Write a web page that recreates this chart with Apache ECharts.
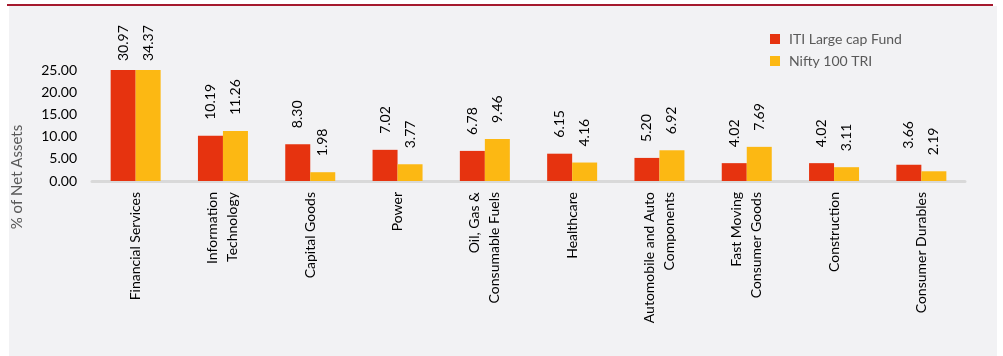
<!DOCTYPE html>
<html>
<head>
<meta charset="utf-8">
<script src="https://cdn.jsdelivr.net/npm/echarts@6/dist/echarts.min.js"></script>
<style>
html,body{margin:0;padding:0;background:#fff;}
#c{width:1003px;height:356px;}
</style>
</head>
<body>
<div id="c"></div>
<script>
var categories = ['Financial Services', 'Information\nTechnology', 'Capital Goods', 'Power',
  'Oil, Gas &\nConsumable Fuels', 'Healthcare', 'Automobile and Auto\nComponents',
  'Fast Moving\nConsumer Goods', 'Construction', 'Consumer Durables'];
var fundValues = [30.97, 10.19, 8.30, 7.02, 6.78, 6.15, 5.20, 4.02, 4.02, 3.66];
var benchValues = [34.37, 11.26, 1.98, 3.77, 9.46, 4.16, 6.92, 7.69, 3.11, 2.19];
var yTicks = [0, 5, 10, 15, 20, 25];
var seriesNames = ['ITI Large cap Fund', 'Nifty 100 TRI'];

var yMax = yTicks[yTicks.length - 1];
var FONT = 'Lato, "Open Sans", sans-serif';

function build(vals) {
  return vals.map(function (v) {
    var capped = v > yMax;
    return {
      value: capped ? yMax : v,
      real: v,
      label: { distance: capped ? 9 : 16 }
    };
  });
}

function labelCfg() {
  return {
    show: true,
    position: 'top',
    rotate: 90,
    align: 'left',
    verticalAlign: 'middle',
    color: '#000',
    fontFamily: FONT,
    fontSize: 14,
    formatter: function (p) { return p.data.real.toFixed(2); }
  };
}

var chart = echarts.init(document.getElementById('c'), null, { renderer: 'canvas' });
chart.setOption({
  backgroundColor: '#ffffff',
  animation: false,
  graphic: [
    { type: 'rect', silent: true, z: -10, shape: { x: 9, y: 6, width: 988, height: 350 }, style: { fill: '#f2f2f4' } },
    { type: 'line', silent: true, z: -9, shape: { x1: 7, y1: 5, x2: 993, y2: 5 }, style: { stroke: '#a5192e', lineWidth: 2 } },
    { type: 'text', silent: true, x: 17, y: 177, rotation: Math.PI / 2,
      style: { text: '% of Net Assets', fill: '#595959', font: '15px ' + FONT, align: 'center', verticalAlign: 'middle' } }
  ],
  legend: {
    orient: 'vertical',
    left: 765,
    top: 27,
    icon: 'rect',
    itemWidth: 10,
    itemHeight: 10,
    itemGap: 8,
    textStyle: { color: '#595959', fontFamily: FONT, fontSize: 14, padding: [0, 0, 0, 4] },
    data: seriesNames
  },
  grid: { left: 92, right: 38, top: 70, bottom: 175 },
  xAxis: {
    type: 'category',
    data: categories,
    axisTick: { show: false },
    axisLine: { lineStyle: { color: '#d9d9d9', width: 3 } },
    axisLabel: {
      interval: 0,
      rotate: 90,
      margin: 11,
      color: '#000',
      fontFamily: FONT,
      fontSize: 14,
      lineHeight: 20
    }
  },
  yAxis: {
    type: 'value',
    min: 0,
    max: yMax,
    interval: 5,
    splitLine: { show: false },
    axisLine: { show: false },
    axisTick: { show: false },
    axisLabel: {
      margin: 15,
      color: '#000',
      fontFamily: FONT,
      fontSize: 14,
      formatter: function (v) { return v.toFixed(2); }
    }
  },
  series: [
    { name: seriesNames[0], type: 'bar', barWidth: 25, barGap: '0%', itemStyle: { color: '#e6330f' },
      label: labelCfg(), data: build(fundValues) },
    { name: seriesNames[1], type: 'bar', barWidth: 25, barGap: '0%', itemStyle: { color: '#fcb813' },
      label: labelCfg(), data: build(benchValues) }
  ]
});
</script>
</body>
</html>
